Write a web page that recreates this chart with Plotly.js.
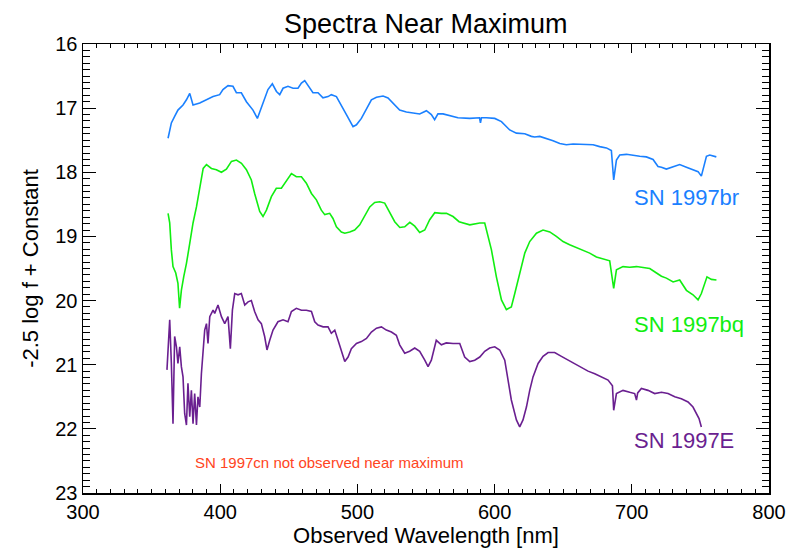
<!DOCTYPE html>
<html>
<head>
<meta charset="utf-8">
<script src="https://cdn.plot.ly/plotly-3.0.1.min.js"></script>
<style>html,body{margin:0;padding:0;background:#fff;}#chart{width:790px;height:550px;}</style>
</head>
<body>
<div id="chart"></div>
<script>
// SN 1997br (blue)
const brWave = [362.0,364.4,366.8,369.2,372.9,375.4,377.8,380.2,385.1,389.9,394.8,399.6,402.0,405.7,409.3,411.8,415.4,419.1,423.9,427.1,431.2,434.8,438.0,441.0,443.4,445.8,449.4,453.1,456.7,459.2,461.6,464.0,467.6,471.3,474.9,478.6,481.0,484.7,488.3,492.0,496.8,499.3,502.9,506.6,510.2,513.9,518.7,522.3,526.0,530.8,535.7,540.5,545.4,550.3,553.9,556.3,558.7,562.4,567.3,573.3,581.9,589.0,589.7,590.4,594.0,600.1,605.0,611.0,615.9,622.0,626.8,629.2,632.9,637.8,642.6,647.5,652.3,657.2,662.0,666.9,671.8,676.6,681.5,685.1,686.8,688.8,691.2,696.1,700.9,705.8,710.6,715.5,719.1,721.6,725.2,730.0,734.9,739.8,744.6,748.3,750.7,753.1,754.4,756.8,761.6];
const brMag  = [17.47,17.23,17.13,17.03,16.95,16.87,16.77,16.95,16.92,16.87,16.82,16.79,16.71,16.65,16.66,16.76,16.76,16.90,17.03,17.16,16.92,16.71,16.62,16.74,16.79,16.69,16.66,16.69,16.69,16.61,16.57,16.64,16.76,16.76,16.84,16.82,16.79,16.82,16.95,17.10,17.29,17.26,17.16,17.00,16.87,16.83,16.81,16.84,16.92,17.03,17.06,17.08,17.09,17.04,17.10,17.18,17.09,17.09,17.12,17.15,17.16,17.15,17.23,17.15,17.15,17.16,17.21,17.34,17.39,17.40,17.44,17.45,17.44,17.47,17.51,17.55,17.57,17.56,17.56,17.57,17.57,17.60,17.62,17.66,18.12,17.81,17.73,17.72,17.74,17.75,17.76,17.80,17.91,17.92,17.95,17.92,17.88,17.92,17.96,17.99,18.06,17.88,17.75,17.73,17.76];

// SN 1997bq (green)
const bqWave = [362.0,363.2,364.4,365.6,367.6,369.2,370.4,371.7,373.4,375.4,377.8,380.2,382.7,385.1,387.6,390.0,393.6,397.2,400.9,404.5,408.2,411.8,415.5,419.1,422.7,425.1,428.8,431.2,433.7,437.3,440.9,444.6,448.2,451.9,455.5,459.2,462.8,466.5,470.1,473.7,476.2,479.8,482.2,484.7,488.3,490.8,494.4,498.0,501.7,505.3,509.0,512.6,516.3,519.9,523.6,527.2,530.9,534.5,538.2,541.8,545.4,549.1,552.7,556.4,561.2,564.9,569.7,574.1,581.9,589.2,592.8,595.2,597.7,601.3,605.0,608.6,612.2,614.7,618.3,622.0,625.6,630.5,635.3,640.2,645.0,649.9,654.7,659.6,664.5,669.3,674.2,679.0,683.9,686.8,688.8,693.6,698.5,703.4,708.2,713.1,718.0,721.6,725.2,730.1,734.9,739.8,744.6,748.3,750.7,753.1,754.8,758.0,761.7];
const bqMag  = [18.64,18.79,19.21,19.47,19.57,19.73,20.12,19.84,19.63,19.42,19.11,18.79,18.54,18.22,17.94,17.88,17.94,17.96,18.00,17.95,17.83,17.81,17.86,17.96,18.12,18.33,18.61,18.69,18.59,18.38,18.25,18.25,18.14,18.02,18.07,18.07,18.17,18.33,18.43,18.59,18.66,18.64,18.72,18.85,18.93,18.95,18.93,18.90,18.82,18.69,18.54,18.47,18.46,18.48,18.64,18.77,18.86,18.85,18.78,18.84,18.94,18.90,18.74,18.63,18.64,18.64,18.69,18.77,18.82,18.79,18.79,19.00,19.21,19.63,19.99,20.14,20.10,19.89,19.57,19.26,19.08,18.95,18.90,18.93,19.00,19.08,19.13,19.17,19.21,19.26,19.32,19.35,19.38,19.81,19.52,19.47,19.48,19.47,19.48,19.50,19.57,19.62,19.65,19.71,19.68,19.84,19.91,19.99,19.89,19.73,19.63,19.67,19.68];

// SN 1997E (purple)
const eWave = [361.2,362.0,363.2,364.4,365.6,366.8,368.1,369.2,370.5,371.7,372.9,374.1,375.4,376.5,377.8,379.0,380.2,381.4,382.7,383.8,385.1,386.3,387.6,388.7,390.0,391.1,392.4,394.8,396.0,398.4,400.9,403.3,405.7,407.4,408.9,410.6,413.0,415.4,417.9,420.3,422.7,425.1,427.6,430.0,432.4,434.1,436.1,438.5,442.1,445.8,449.4,451.9,455.5,459.2,462.8,466.5,468.9,471.3,475.0,478.6,481.0,483.5,485.9,488.3,490.8,493.2,495.6,499.3,502.9,506.6,510.2,513.9,517.5,521.1,524.8,528.4,530.8,534.5,538.1,541.8,545.4,549.1,551.5,553.9,556.3,557.5,561.2,564.8,569.7,574.6,578.2,581.9,585.5,589.2,592.8,596.4,600.1,603.7,607.4,609.8,612.2,615.9,618.3,620.7,623.2,625.6,628.0,631.7,635.3,639.0,643.8,648.7,653.5,658.4,663.3,668.1,673.0,677.8,682.7,685.9,686.8,688.8,693.6,698.5,702.1,703.4,704.3,707.0,711.8,716.7,721.6,726.4,731.3,736.1,741.0,744.6,747.1,749.0,750.7];
const eMag  = [21.08,20.72,20.30,20.98,21.92,20.56,20.72,20.98,20.72,21.03,21.19,21.76,21.94,21.29,21.81,21.40,21.92,21.45,21.94,21.50,21.66,21.14,20.67,20.46,20.36,20.67,20.25,20.15,20.20,20.07,20.25,20.36,20.25,20.75,20.15,19.89,19.91,19.89,20.07,20.02,20.00,20.17,20.30,20.36,20.56,20.77,20.62,20.46,20.33,20.30,20.33,20.17,20.12,20.15,20.15,20.17,20.33,20.38,20.41,20.41,20.51,20.46,20.62,20.77,20.95,20.88,20.75,20.67,20.64,20.59,20.49,20.43,20.41,20.46,20.49,20.54,20.69,20.82,20.79,20.74,20.79,20.93,21.03,20.93,20.72,20.62,20.69,20.66,20.67,20.67,20.88,20.95,20.93,20.88,20.79,20.74,20.72,20.77,20.93,21.24,21.55,21.86,21.97,21.86,21.66,21.40,21.19,20.98,20.87,20.81,20.81,20.87,20.93,20.98,21.04,21.10,21.14,21.19,21.24,21.33,21.71,21.45,21.40,21.43,21.45,21.55,21.44,21.37,21.40,21.45,21.43,21.45,21.50,21.53,21.58,21.66,21.76,21.84,21.97];

const seriesNames = ["SN 1997br", "SN 1997bq", "SN 1997E"];
const seriesColors = ["#1a80ff", "#11ee11", "#6a1f90"];
const labelY = [18.40, 20.38, 22.18];
const labelX = 700;
const noteText = "SN 1997cn not observed near maximum";
const noteX = 380, noteY = 22.52;

const xTicks = [300, 400, 500, 600, 700, 800];
const yTicks = [16, 17, 18, 19, 20, 21, 22, 23];

const waves = [brWave, bqWave, eWave];
const mags = [brMag, bqMag, eMag];

const font = "Liberation Sans, Arial, Helvetica, sans-serif";

const traces = waves.map((w, i) => ({
  x: w, y: mags[i], type: "scatter", mode: "lines",
  name: seriesNames[i], line: {color: seriesColors[i], width: 1.6}, hoverinfo: "skip"
}));

const annotations = seriesNames.map((n, i) => ({
  x: labelX, y: labelY[i], xref: "x", yref: "y", text: n, showarrow: false,
  xanchor: "left", yanchor: "middle", font: {family: font, size: 22, color: seriesColors[i]}
}));
annotations.push({
  x: noteX, y: noteY, xref: "x", yref: "y", text: noteText, showarrow: false,
  xanchor: "left", yanchor: "middle", font: {family: font, size: 15, color: "#ff4422"}
});

const axisCommon = {
  showgrid: false, zeroline: false, showline: true, linecolor: "#000", linewidth: 1.5,
  mirror: "ticks", ticks: "inside", tickcolor: "#000", tickwidth: 1,
  tickfont: {family: font, size: 20, color: "#000"}
};

const layout = {
  width: 790, height: 550,
  margin: {l: 83, r: 21, t: 44, b: 57},
  paper_bgcolor: "#fff", plot_bgcolor: "#fff",
  showlegend: false,
  title: {text: "Spectra Near Maximum", x: 0.539, xanchor: "center", y: 0.044, yref: "container", yanchor: "middle",
          font: {family: font, size: 27, color: "#000"}},
  xaxis: Object.assign({}, axisCommon, {
    range: [300, 800], tickvals: xTicks, ticklen: 9,
    minor: {ticks: "inside", dtick: 10, ticklen: 4, tickcolor: "#000", tickwidth: 1},
    title: {text: "Observed Wavelength [nm]", standoff: 6, font: {family: font, size: 22, color: "#000"}}
  }),
  yaxis: Object.assign({}, axisCommon, {
    range: [23, 16], tickvals: yTicks, ticklen: 13,
    minor: {ticks: "inside", dtick: 0.1, ticklen: 7, tickcolor: "#000", tickwidth: 1},
    title: {text: "-2.5 log f + Constant", standoff: 10, font: {family: font, size: 22, color: "#000"}}
  }),
  annotations: annotations
};
layout.title.y = 1 - 24 / 550;

Plotly.newPlot("chart", traces, layout, {displayModeBar: false, staticPlot: true});
</script>
</body>
</html>
